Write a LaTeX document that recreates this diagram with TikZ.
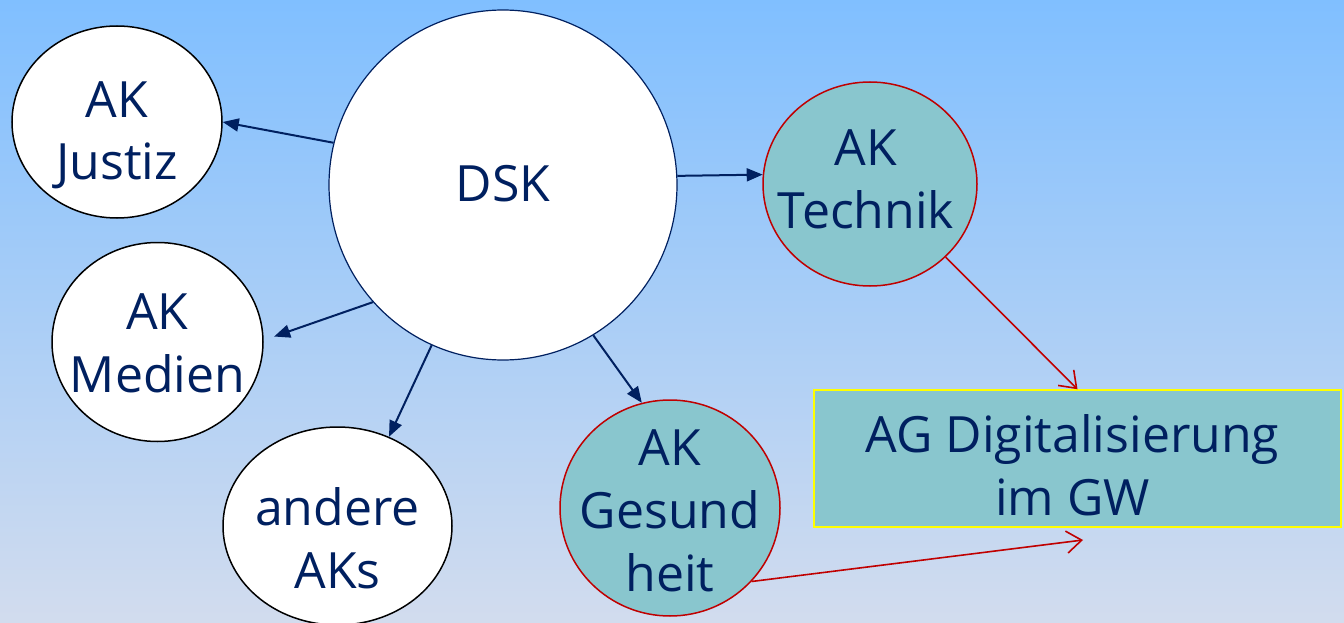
\documentclass[tikz,border=0pt]{standalone}
\usepackage{fontspec}
\setmainfont{Open Sans}
\usetikzlibrary{arrows.meta,shapes.geometric}
\definecolor{navy}{RGB}{0,32,96}
\definecolor{tealfill}{RGB}{137,198,206}
\definecolor{redline}{RGB}{192,0,0}
\definecolor{bgtop}{RGB}{128,191,255}
\definecolor{bgbot}{RGB}{210,220,238}
\definecolor{agyellow}{RGB}{255,255,0}
% text block of zero size: first baseline lifted #1 above the node centre
\newcommand{\ntxt}[2]{\makebox[0pt]{\raisebox{#1}[0pt][0pt]{\begin{tabular}[t]{@{}c@{}}#2\end{tabular}}}}
\begin{document}
\begin{tikzpicture}[x=1pt,y=-1pt,
  akbase/.style={ellipse, inner sep=0pt, font=\fontsize{50}{63}\selectfont, text=navy, line width=1.5pt},
  whitenode/.style={akbase, draw=black, fill=white},
  tealnode/.style={akbase, draw=redline, fill=tealfill},
  navyarrow/.style={draw=navy, line width=2pt, -{Triangle[length=16pt,width=13pt]}},
  redarrow/.style={draw=redline, line width=1.6pt, -{Straight Barb[length=15pt,width=22pt,line width=1.6pt]}}
]
\shade[top color=bgtop, bottom color=bgbot] (0,0) rectangle (1344,623);
\useasboundingbox (0,0) rectangle (1344,623);

\node[whitenode, minimum width=210pt, minimum height=192pt] (justiz) at (117,122) {\ntxt{5pt}{AK\\Justiz}};
\node[akbase, draw=navy, fill=white, line width=1.2pt, minimum width=348pt, minimum height=350pt] (dsk) at (503,185) {\ntxt{-17pt}{DSK}};
\node[tealnode, minimum width=214pt, minimum height=204pt] (technik) at (870,184) {\ntxt{19pt}{\hspace*{-8pt}AK\\\hspace*{-8pt}Technik}};
\node[whitenode, minimum width=211pt, minimum height=199pt] (medien) at (157.5,342) {\ntxt{13pt}{AK\\Medien}};
\node[whitenode, minimum width=229pt, minimum height=198pt] (andere) at (337.5,526) {\ntxt{1pt}{andere\\AKs}};
\node[tealnode, minimum width=220pt, minimum height=216pt] (gesund) at (670,508) {\ntxt{43pt}{AK\\Gesund\\heit}};
\node[draw=agyellow, line width=1.5pt, fill=tealfill, minimum width=527pt, minimum height=137pt, inner sep=0pt, font=\fontsize{50}{63}\selectfont, text=navy] (ag) at (1077.5,458.5) {\ntxt{6.5pt}{\hspace*{-10pt}AG Digitalisierung\\\hspace*{-10pt}im GW}};

\draw[navyarrow] (dsk.166) -- (justiz.0);
\draw[navyarrow] (dsk.3) -- (technik.175);
\draw[navyarrow, shorten >=11pt] (dsk.222) -- (medien.1);
\draw[navyarrow] (dsk.246) -- (andere.60);
\draw[navyarrow] (dsk.301) -- (gesund.105);
\draw[redarrow] (technik.316) -- (ag.north);
\coordinate (agin) at (1083,540);
\draw[redarrow] (gesund.318) -- (agin);
\end{tikzpicture}
\end{document}
